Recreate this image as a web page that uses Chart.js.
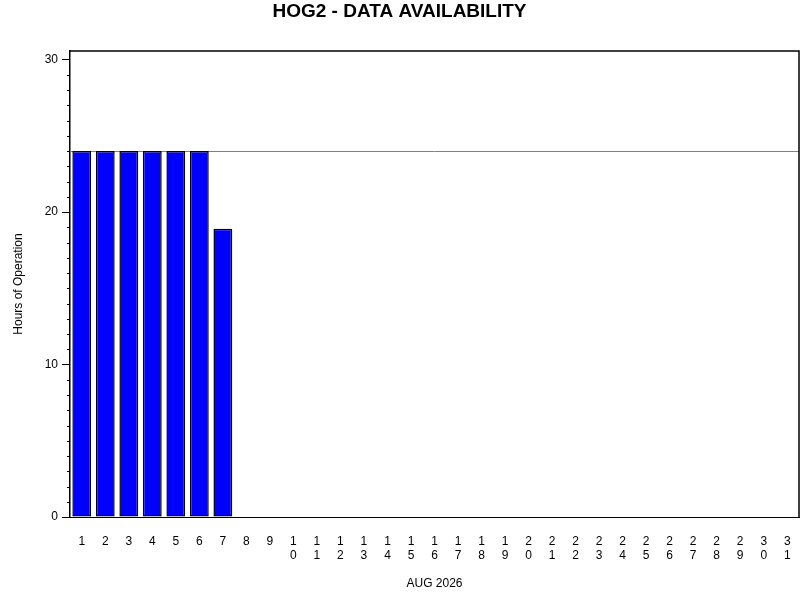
<!DOCTYPE html>
<html>
<head>
<meta charset="utf-8">
<script src="https://cdn.jsdelivr.net/npm/chart.js@4"></script>
<style>
  html, body { margin: 0; padding: 0; background: #fff; }
  #wrap { width: 800px; height: 600px; }
</style>
</head>
<body>
<div id="wrap"><canvas id="myChart" width="800" height="600"></canvas></div>
<script>
// days of the month and hours of operation per day
const days = ['1','2','3','4','5','6','7','8','9','10','11','12','13','14','15','16',
  '17','18','19','20','21','22','23','24','25','26','27','28','29','30','31'];
const hours = [24, 24, 24, 24, 24, 24, 18.9, 0, 0, 0, 0, 0, 0, 0, 0, 0,
  0, 0, 0, 0, 0, 0, 0, 0, 0, 0, 0, 0, 0, 0, 0];
const yTicks = [0, 10, 20, 30];
const fullDay = 24;

const ctx = document.getElementById('myChart');
const font = 'Liberation Sans, Arial, sans-serif';

/***** frame, minor ticks and the 24h line *****/
const extras = {
  id: 'extras',
  beforeDatasetsDraw(chart) {
    const { ctx, chartArea: a, scales: { y } } = chart;
    ctx.save();
    // reference line at a full day
    const yy = Math.round(y.getPixelForValue(fullDay)) + 0.5;
    ctx.strokeStyle = '#808080';
    ctx.lineWidth = 1;
    ctx.beginPath();
    ctx.moveTo(a.left, yy);
    ctx.lineTo(a.right, yy);
    ctx.stroke();
    ctx.restore();
  },
  afterDraw(chart) {
    const { ctx, chartArea: a, scales: { y } } = chart;
    ctx.save();
    ctx.strokeStyle = '#000';
    ctx.lineWidth = 1;
    // minor ticks every hour
    ctx.beginPath();
    for (let v = 0; v <= yTicks[yTicks.length - 1]; v++) {
      if (yTicks.includes(v)) continue;
      const py = Math.round(y.getPixelForValue(v)) + 0.5;
      ctx.moveTo(a.left - 3, py);
      ctx.lineTo(a.left, py);
    }
    ctx.stroke();
    // top and right border
    ctx.lineWidth = 1.5;
    ctx.beginPath();
    ctx.moveTo(a.left, a.top);
    ctx.lineTo(a.right, a.top);
    ctx.lineTo(a.right, a.bottom);
    ctx.stroke();
    ctx.restore();
  }
};

new Chart(ctx, {
  type: 'bar',
  data: {
    labels: days.map(d => d.split('')),
    datasets: [{
      data: hours,
      backgroundColor: '#0000ff',
      borderColor: '#000000',
      borderWidth: 1.5,
      borderSkipped: false,
      categoryPercentage: 1,
      barPercentage: 0.8
    }]
  },
  options: {
    responsive: false,
    animation: false,
    devicePixelRatio: 1,
    layout: { padding: { left: 0, right: 1, top: 0, bottom: 0 } },
    plugins: {
      legend: { display: false },
      tooltip: { enabled: false },
      title: {
        display: true,
        text: 'HOG2 - DATA AVAILABILITY',
        color: '#000',
        font: { family: font, size: 19, weight: 'bold' },
        padding: { top: 0, bottom: 28.2 }
      }
    },
    scales: {
      x: {
        grid: { display: false, drawTicks: false },
        border: { display: true, color: '#000', width: 1 },
        ticks: {
          color: '#000',
          font: { family: font, size: 12 },
          padding: 17,
          maxRotation: 0,
          autoSkip: false
        },
        title: {
          display: true,
          text: 'AUG 2026',
          color: '#000',
          font: { family: font, size: 12 },
          padding: { top: 0, bottom: 9 }
        },
        afterFit(scale) {
          scale.height = 83;
          scale.paddingLeft = 0;
          scale.paddingRight = 0;
        }
      },
      y: {
        min: 0,
        max: 30.56,
        grid: { drawOnChartArea: false, drawTicks: true, tickLength: 8, color: '#000' },
        border: { display: true, color: '#000', width: 1.5 },
        ticks: {
          stepSize: 10,
          includeBounds: false,
          color: '#000',
          padding: 4,
          font: { family: font, size: 12 }
        },
        afterBuildTicks(scale) { scale.ticks = yTicks.map(v => ({ value: v })); },
        title: {
          display: true,
          text: 'Hours of Operation',
          color: '#000',
          font: { family: font, size: 12 },
          padding: { top: 11, bottom: 0 }
        },
        afterFit(scale) {
          scale.width = 70;
          scale.paddingTop = 0;
          scale.paddingBottom = 0;
        }
      }
    }
  },
  plugins: [extras]
});
</script>
</body>
</html>
